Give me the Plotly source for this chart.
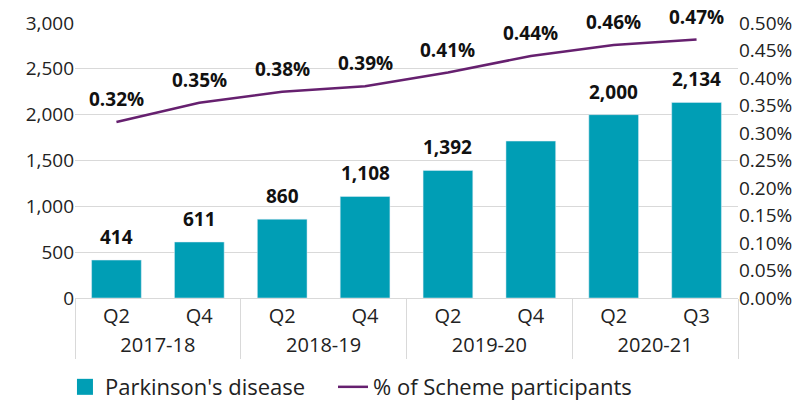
import plotly.graph_objects as go

years = ['2017-18', '2017-18', '2018-19', '2018-19', '2019-20', '2019-20', '2020-21', '2020-21']
quarters = ['Q2', 'Q4', 'Q2', 'Q4', 'Q2', 'Q4', 'Q2', 'Q3']
parkinsons = [414, 611, 860, 1108, 1392, 1712, 2000, 2134]
bar_labels = ['414', '611', '860', '1,108', '1,392', '', '2,000', '2,134']
pct_participants = [0.0032, 0.00355, 0.00375, 0.00385, 0.0041, 0.0044, 0.0046, 0.0047]
pct_labels = ['0.32%', '0.35%', '0.38%', '0.39%', '0.41%', '0.44%', '0.46%', '0.47%']

teal = '#009EB5'
purple = '#66206F'
font = 'Open Sans'
label_font = dict(size=19, color='#111', family=font, weight='bold')

fig = go.Figure()
fig.add_trace(go.Bar(x=[years, quarters], y=parkinsons, name="Parkinson's disease",
                     marker_color=teal, showlegend=False))
# bigger square for the legend entry (nbsp padding spaces the two items apart)
fig.add_trace(go.Scatter(x=[None], y=[None], mode='markers',
                         name="Parkinson's disease" + '\u00a0' * 4,
                         marker=dict(symbol='square', size=24, color=teal), legendrank=1))
fig.add_trace(go.Scatter(x=[years, quarters], y=pct_participants, name='% of Scheme participants',
                         mode='lines', line=dict(color=purple, width=2.5), yaxis='y2',
                         legendrank=2))

# bar value labels
for i, (v, t) in enumerate(zip(parkinsons, bar_labels)):
    if t:
        fig.add_annotation(x=i, y=v, xref='x', yref='y', text=t, showarrow=False,
                           yanchor='bottom', yshift=8, font=label_font)

# line labels sit well above the line
for i, (v, t) in enumerate(zip(pct_participants, pct_labels)):
    fig.add_annotation(x=i, y=v, xref='x', yref='y2', text=t, showarrow=False,
                       yshift=23, font=label_font)

fig.update_layout(
    width=802, height=404,
    margin=dict(l=75, r=64, t=23, b=106),
    plot_bgcolor='white', paper_bgcolor='white',
    font=dict(family=font, size=19, color='#222'),
    bargap=0.4,
    showlegend=True,
    legend=dict(orientation='h', xref='container', x=0.081, xanchor='left',
                yref='container', y=0.042, yanchor='middle',
                font=dict(size=22), traceorder='normal'),
    xaxis=dict(type='multicategory', showline=True, linecolor='#d9d9d9', linewidth=1,
               dividercolor='#d9d9d9', dividerwidth=1, tickfont=dict(size=20),
               automargin=False),
    yaxis=dict(range=[0, 3000], dtick=500, tickformat=',', showgrid=True,
               gridcolor='#d9d9d9', zeroline=False, ticks='', tickfont=dict(size=19),
               automargin=False),
    yaxis2=dict(range=[0, 0.005], dtick=0.0005, tickformat='.2%', overlaying='y',
                side='right', showgrid=False, zeroline=False, tickfont=dict(size=19),
                automargin=False),
)

fig.write_html('out.html', config={'displayModeBar': False},
               post_script="document.body.style.margin='0';")
